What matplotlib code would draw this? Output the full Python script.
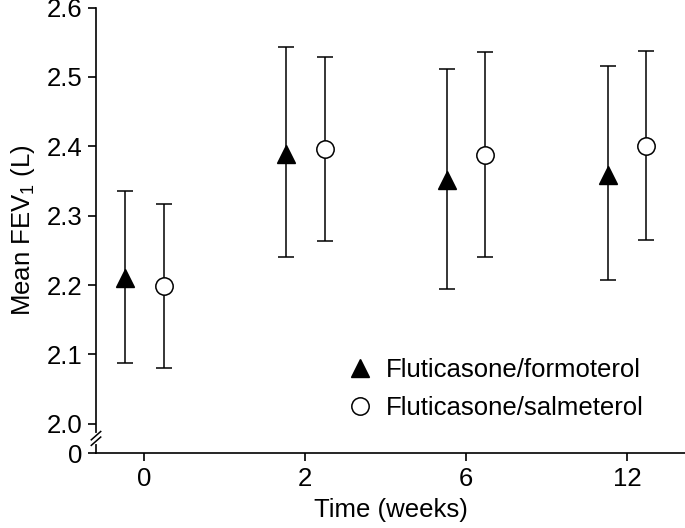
import matplotlib
matplotlib.use("Agg")
import matplotlib.pyplot as plt
import numpy as np

plt.rcParams['font.family'] = ['Liberation Sans', 'DejaVu Sans']
plt.rcParams['mathtext.fontset'] = 'custom'
plt.rcParams['mathtext.rm'] = 'Liberation Sans'
plt.rcParams['mathtext.it'] = 'Liberation Sans:italic'

# Data
weeks = ['0', '2', '6', '12']
form_mean = [2.210, 2.389, 2.351, 2.359]
form_low = [2.088, 2.240, 2.194, 2.207]
form_high = [2.336, 2.543, 2.511, 2.515]
salm_mean = [2.199, 2.396, 2.387, 2.401]
salm_low = [2.080, 2.263, 2.240, 2.265]
salm_high = [2.317, 2.529, 2.536, 2.537]
ytick_vals = [2.0, 2.1, 2.2, 2.3, 2.4, 2.5, 2.6]
ytick_labels = ['2.0', '2.1', '2.2', '2.3', '2.4', '2.5', '2.6']
labels = ['Fluticasone/formoterol', 'Fluticasone/salmeterol']

FS = 18.5
W, H = 685, 528
fig = plt.figure(figsize=(W / 100, H / 100), dpi=100)
left, right, bottom, top = 96, 685, 453, 7.5
ax = fig.add_axes([left / W, 1 - bottom / H, (right - left) / W, (bottom - top) / H])

x = np.arange(len(weeks))
off = 0.12
ybreak = 1.958  # position representing 0 on the broken axis

fm = np.array(form_mean); sm = np.array(salm_mean)
c1 = ax.errorbar(x - off, fm, yerr=[fm - np.array(form_low), np.array(form_high) - fm],
                 fmt='^', color='black', ms=13.5, mfc='black', mec='black',
                 elinewidth=1.1, capsize=5.6, capthick=1.1, zorder=3)
c2 = ax.errorbar(x + off, sm, yerr=[sm - np.array(salm_low), np.array(salm_high) - sm],
                 fmt='o', color='black', ms=12.5, mfc='white', mec='black', mew=1.1,
                 elinewidth=1.1, capsize=5.6, capthick=1.1, zorder=3)

ax.set_xlim(-0.30, 3.36)
ax.set_ylim(ybreak, 2.6)
ax.set_xticks(x)
ax.set_xticklabels(weeks)
ax.set_yticks([ybreak] + ytick_vals)
ax.set_yticklabels(['0'] + ytick_labels)

for s in ['top', 'right']:
    ax.spines[s].set_visible(False)
for s in ['left', 'bottom']:
    ax.spines[s].set_linewidth(1.2)
ax.tick_params(axis='both', labelsize=FS, length=6, width=1.2, pad=4, direction='out')

ax.set_xlabel('Time (weeks)', fontsize=FS, labelpad=5)
ax.set_ylabel('Mean FEV$_1$ (L)', fontsize=FS, labelpad=7)

# axis break marks
yb = (ybreak + 2.0) / 2
trans = ax.get_yaxis_transform()
ax.plot([0, 0], [yb - 0.005, yb + 0.005], color='white', lw=3, transform=trans, clip_on=False, zorder=5)
for dy in (-0.004, 0.004):
    ax.plot([-0.008, 0.008], [yb + dy - 0.006, yb + dy + 0.006], color='black', lw=1.1,
            transform=trans, clip_on=False, zorder=6)

ax.legend([c1[0], c2[0]], labels, loc='center left',
          bbox_to_anchor=(347 / W, 1 - 389 / H), bbox_transform=fig.transFigure,
          frameon=False, fontsize=FS, handlelength=1.0, handletextpad=0.5,
          labelspacing=0.55, borderpad=0, borderaxespad=0)

fig.savefig('out.png', dpi=100)
